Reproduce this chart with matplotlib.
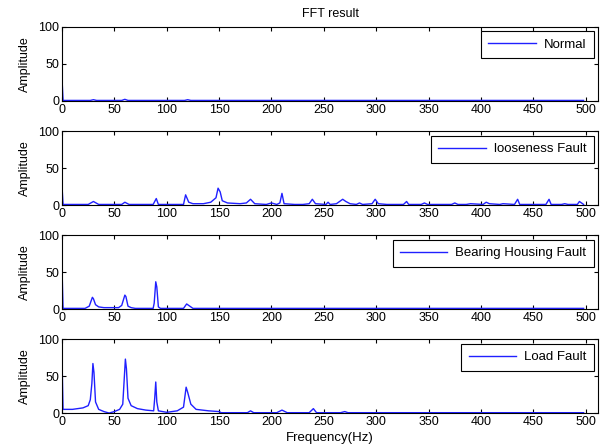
import matplotlib
matplotlib.use("Agg")
import matplotlib.pyplot as plt

plt.rcParams['font.family'] = ['Liberation Sans', 'DejaVu Sans']

# ---- data (frequency in Hz, amplitude) ----
normal_f = [0, 0, 0.5, 1, 27, 30, 33, 57, 60, 63, 117, 120, 123, 498]
normal_a = [0, 30, 15, 0.5, 0.5, 1.5, 0.5, 0.5, 2, 0.5, 0.5, 1.5, 0.5, 0.5]

loose_f = [0, 0, 0.5, 1, 25, 30, 35, 57, 60, 64, 87, 90, 92, 116, 118, 121, 125, 135,
           142, 147, 149, 151, 153, 158, 170, 176, 180, 184, 195, 200, 205, 208, 210,
           212, 222, 230, 236, 239, 242, 252, 254, 256, 262, 268, 271, 275, 281, 284,
           287, 296, 299, 302, 310, 326, 329, 331, 343, 346, 349, 372, 375, 378, 386,
           390, 402, 405, 408, 418, 421, 432, 435, 437, 462, 465, 467, 477, 480, 483,
           492, 494, 497, 498]
loose_a = [0, 25, 13, 1, 1, 5, 1, 1, 4, 1, 1, 9, 1, 1, 14, 4, 2, 2,
           4, 10, 23, 18, 6, 3, 2, 3, 8, 2, 1, 3, 1, 3, 16,
           2, 1, 1, 2, 8, 2, 1, 4, 1, 2, 8, 5, 2, 1, 3,
           1, 2, 8, 2, 1, 1, 5, 1, 1, 3, 1, 1, 3, 1, 1,
           2, 1, 4, 2, 1, 2, 1, 8, 1, 1, 8, 1, 1, 2, 1,
           1, 5, 2, 1]

bear_f = [0, 0, 0.5, 1, 22, 26, 29, 30, 32, 35, 40, 54, 57, 60, 61, 63, 66, 70,
          87, 88, 89.5, 90.5, 92, 94, 116, 119, 122, 125, 498]
bear_a = [0, 55, 27, 1, 1, 4, 16, 14, 6, 3, 2, 2, 5, 19, 17, 4, 2, 1,
          1, 8, 37, 30, 3, 1, 1, 7, 4, 1, 1]

load_f = [0, 0, 0.5, 1, 10, 20, 25, 27, 28.5, 29.5, 30.5, 32, 35, 40, 45, 50, 55, 58,
          60.5, 61.5, 63, 66, 72, 80, 87.5, 88.5, 89.5, 90.5, 92, 100, 110, 116,
          118.5, 120, 123, 128, 140, 150, 152, 177, 180, 183, 205, 210, 215, 236,
          240, 243, 266, 270, 273, 498]
load_a = [0, 75, 38, 5, 5, 7, 10, 18, 40, 67, 55, 15, 5, 2, 0, 2, 5, 12,
          73, 60, 20, 10, 6, 4, 3, 20, 42, 15, 3, 1, 3, 8,
          35, 28, 12, 5, 3, 2, 0.5, 0.5, 3, 0.5, 0.5, 4, 0.5, 0.5,
          6, 0.5, 0.5, 2, 0.5, 0.5]

series = [("Normal", normal_f, normal_a),
          ("looseness Fault", loose_f, loose_a),
          ("Bearing Housing Fault", bear_f, bear_a),
          ("Load Fault", load_f, load_a)]

xticks = [0, 50, 100, 150, 200, 250, 300, 350, 400, 450, 500]
yticks = [0, 50, 100]

fig = plt.figure(figsize=(6.08, 4.48), dpi=100)
left, width, height = 0.102, 0.882, 0.165
bottoms = [0.775, 0.542, 0.310, 0.078]

for i, (label, f, a) in enumerate(series):
    ax = fig.add_axes([left, bottoms[i], width, height])
    ax.plot(f, a, color='#2020ff', lw=1.0, label=label)
    ax.set_xlim(0, 512)
    ax.set_ylim(0, 100)
    ax.set_xticks(xticks)
    ax.set_yticks(yticks)
    ax.tick_params(direction='in', top=True, right=True, labelsize=9, length=3,
                   width=0.8, pad=2)
    for s in ax.spines.values():
        s.set_linewidth(0.8)
    ax.set_ylabel("Amplitude", fontsize=9, labelpad=5)
    leg = ax.legend(loc='upper right', fontsize=9.5, fancybox=False, framealpha=1,
                    edgecolor='black', borderpad=0.55, handlelength=3.6,
                    handletextpad=0.6, borderaxespad=0.35)
    leg.get_frame().set_linewidth(0.8)
    if i == 0:
        ax.set_title("FFT result", fontsize=9, pad=7)
    if i == 3:
        ax.set_xlabel("Frequency(Hz)", fontsize=9.5, labelpad=3)

fig.savefig("out.png", dpi=100)
